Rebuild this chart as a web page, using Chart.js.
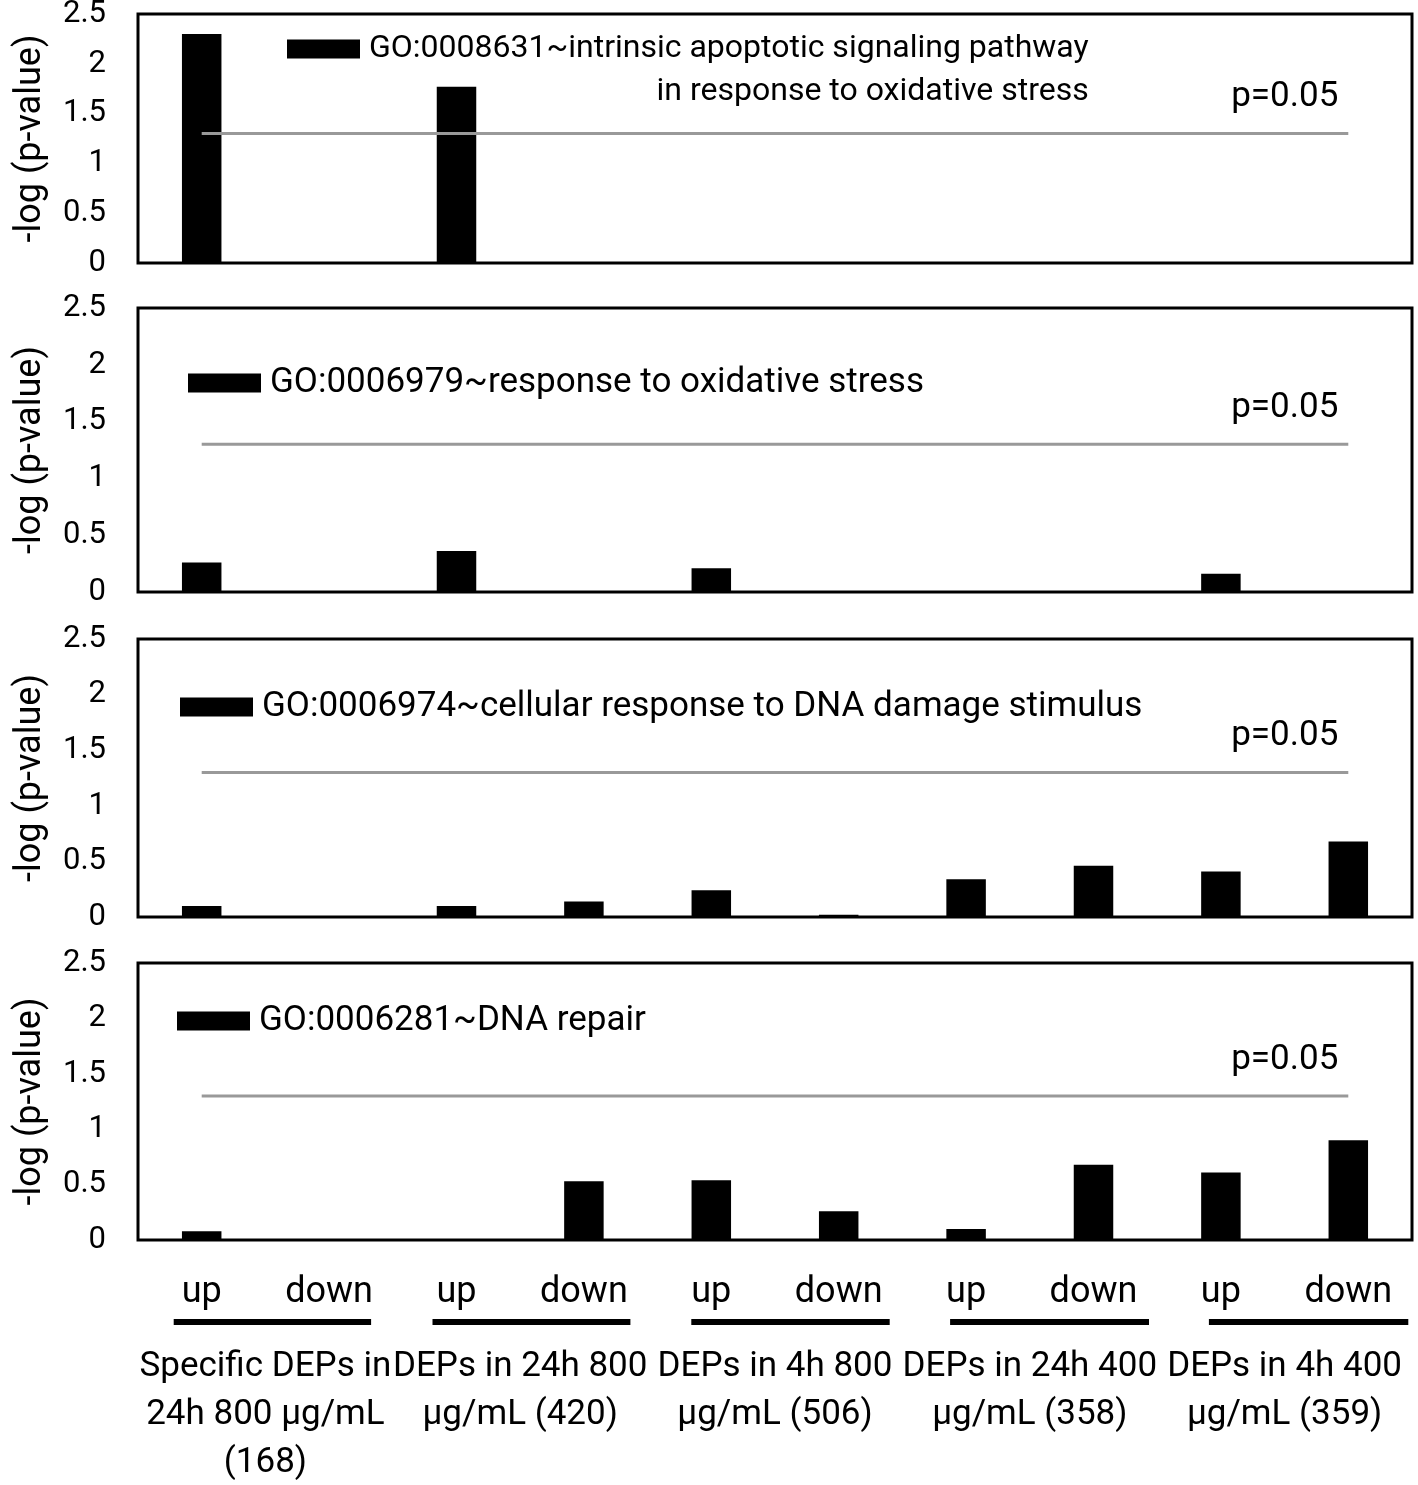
<!DOCTYPE html>
<html>
<head>
<meta charset="utf-8">
<script src="https://cdn.jsdelivr.net/npm/chart.js@4.4.1/dist/chart.umd.min.js"></script>
<style>
  html, body { margin: 0; padding: 0; background: #fff; }
  body { width: 1418px; height: 1485px; position: relative; overflow: hidden; }
  canvas { position: absolute; left: 0; }
</style>
</head>
<body>
<canvas id="c1"></canvas>
<canvas id="c2"></canvas>
<canvas id="c3"></canvas>
<canvas id="c4"></canvas>
<script>
// categories along x, grouped in pairs (up / down) per DEP set
const categories = ['up', 'down', 'up', 'down', 'up', 'down', 'up', 'down', 'up', 'down'];
const groupLabels = [
  ['Specific DEPs in', '24h 800 µg/mL', '(168)'],
  ['DEPs in 24h 800', 'µg/mL (420)'],
  ['DEPs in 4h 800', 'µg/mL (506)'],
  ['DEPs in 24h 400', 'µg/mL (358)'],
  ['DEPs in 4h 400', 'µg/mL (359)']
];
const yTicks = [0, 0.5, 1, 1.5, 2, 2.5];
const yTitle = '-log (p-value)';

// threshold line, -log10(0.05)
const pLine = [1.3, 1.3, 1.3, 1.3, 1.3, 1.3, 1.3, 1.3, 1.3, 1.3];
const pLabel = 'p=0.05';

// GO terms
const term8631 = ['GO:0008631~intrinsic apoptotic signaling pathway', 'in response to oxidative stress'];
const term6979 = ['GO:0006979~response to oxidative stress'];
const term6974 = ['GO:0006974~cellular response to DNA damage stimulus'];
const term6281 = ['GO:0006281~DNA repair'];

// -log(p-value) per category
const go8631 = [2.30, 0, 1.77, 0, 0, 0, 0, 0, 0, 0];
const go6979 = [0.26, 0, 0.36, 0, 0.21, 0, 0, 0, 0.16, 0];
const go6974 = [0.10, 0, 0.10, 0.14, 0.24, 0.02, 0.34, 0.46, 0.41, 0.68];
const go6281 = [0.08, 0, 0, 0.53, 0.54, 0.26, 0.10, 0.68, 0.61, 0.90];

const FONT = 'Roboto';

// panel boxes on the page + where the legend sits inside each box
const panels = [
  { id: 'c1', term: term8631, values: go8631, top: 14, bottom: 263, legendX: 149, legendY: 35, legendSize: 32 },
  { id: 'c2', term: term6979, values: go6979, top: 308, bottom: 592, legendX: 50, legendY: 75, legendSize: 35 },
  { id: 'c3', term: term6974, values: go6974, top: 639, bottom: 917, legendX: 42, legendY: 68, legendSize: 35 },
  { id: 'c4', term: term6281, values: go6281, top: 963, bottom: 1240, legendX: 39, legendY: 58, legendSize: 35, axes: true }
];

// frame, legend, p label and group underlines
const panelDecor = {
  id: 'panelDecor',
  afterDatasetsDraw(chart, args, opts) {
    const { ctx, chartArea: a } = chart;
    ctx.save();
    ctx.strokeStyle = '#000';
    ctx.lineWidth = 3;
    ctx.strokeRect(a.left, a.top, a.right - a.left, a.bottom - a.top);

    // legend
    const bar = chart.data.datasets[1];
    const rx = a.left + opts.legendX;
    const ry = a.top + opts.legendY;
    ctx.fillStyle = bar.backgroundColor;
    ctx.fillRect(rx, ry - 9.5, 73, 19);
    ctx.fillStyle = '#000';
    ctx.font = opts.legendSize + 'px ' + FONT;
    ctx.textBaseline = 'middle';
    ctx.textAlign = 'left';
    const lines = bar.label;
    const tx = rx + 73 + 9;
    ctx.fillText(lines[0], tx, ry);
    const endX = tx + ctx.measureText(lines[0]).width;
    ctx.textAlign = 'right';
    for (let i = 1; i < lines.length; i++) {
      ctx.fillText(lines[i], endX, ry + 43 * i);
    }

    // p=0.05 label above the end of the threshold line
    ctx.font = '35px ' + FONT;
    const pts = chart.getDatasetMeta(0).data;
    const last = pts[pts.length - 1];
    ctx.fillText(pLabel, last.x - 10, last.y - 36);

    // underlines under each up/down pair
    if (chart.scales.groups) {
      const x = chart.scales.x;
      ctx.lineWidth = 6;
      for (let g = 0; g < groupLabels.length; g++) {
        const x0 = x.getPixelForValue(2 * g) - 28 + 4 * g;
        const x1 = x.getPixelForValue(2 * g + 1) + 42 + 4.5 * g;
        ctx.beginPath();
        ctx.moveTo(x0, a.bottom + 82);
        ctx.lineTo(x1, a.bottom + 82);
        ctx.stroke();
      }
    }
    ctx.restore();
  }
};

function makePanel(p) {
  const canvas = document.getElementById(p.id);
  const canvasTop = p.top - 30;
  const height = p.axes ? 1485 - canvasTop : (p.bottom - p.top) + 60;
  canvas.width = 1418;
  canvas.height = height;
  canvas.style.top = canvasTop + 'px';

  const scales = {
    x: {
      display: !!p.axes,
      weight: 0,
      grid: { display: false, drawTicks: true, tickLength: 31 },
      border: { display: false },
      ticks: {
        color: '#000', font: { family: FONT, size: 36 }, padding: 0,
        autoSkip: false, maxRotation: 0, minRotation: 0
      },
      afterFit: s => { if (p.axes) s.height = 71; }
    },
    y: {
      min: 0,
      max: 2.5,
      afterBuildTicks: s => { s.ticks = yTicks.map(v => ({ value: v })); },
      afterFit: s => { s.width = 138; },
      grid: { display: false, drawTicks: true, tickLength: 32 },
      border: { display: false },
      ticks: {
        color: '#000', font: { family: FONT, size: 31 }, padding: 0,
        autoSkip: false, callback: v => String(v)
      },
      title: {
        display: true, text: yTitle, color: '#000',
        font: { family: FONT, size: 36 }, padding: { top: 9, bottom: 0 }
      }
    }
  };
  if (p.axes) {
    scales.groups = {
      type: 'category',
      position: 'bottom',
      axis: 'x',
      labels: groupLabels,
      offset: true,
      weight: 1,
      grid: { display: false, drawTicks: true, tickLength: 32 },
      border: { display: false },
      ticks: {
        color: '#000', font: { family: FONT, size: 35, lineHeight: 48 / 35 }, padding: 0,
        autoSkip: false, maxRotation: 0, minRotation: 0
      },
      afterFit: s => { s.height = 174; }
    };
  }

  return new Chart(canvas, {
    type: 'bar',
    data: {
      labels: categories,
      datasets: [
        {
          type: 'line',
          label: pLabel,
          data: pLine,
          borderColor: '#999999',
          borderWidth: 3,
          pointRadius: 0,
          fill: false,
          order: 0
        },
        {
          label: p.term,
          data: p.values,
          backgroundColor: '#000000',
          borderWidth: 0,
          barPercentage: 0.31,
          categoryPercentage: 1,
          order: 1
        }
      ]
    },
    options: {
      responsive: false,
      animation: false,
      layout: { padding: { top: 30, bottom: p.axes ? 0 : 30, left: 0, right: 6 } },
      plugins: {
        legend: { display: false },
        tooltip: { enabled: false },
        panelDecor: { legendX: p.legendX, legendY: p.legendY, legendSize: p.legendSize }
      },
      scales: scales
    },
    plugins: [panelDecor]
  });
}

document.fonts.load('35px ' + FONT).then(() => {
  panels.forEach(makePanel);
});
</script>
</body>
</html>
